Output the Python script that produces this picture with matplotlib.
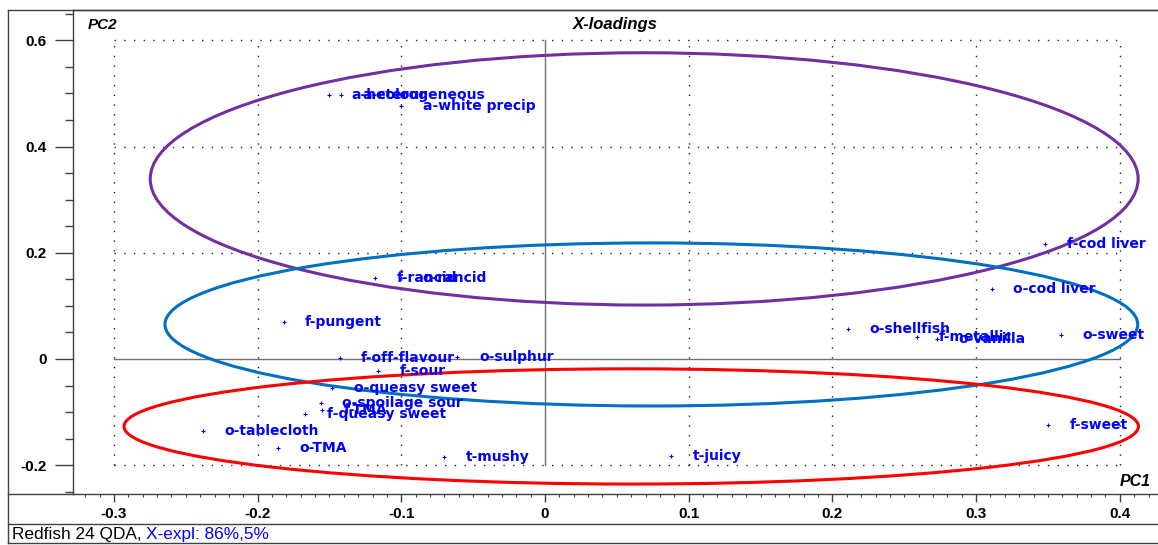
import numpy as np
import matplotlib
matplotlib.use('Agg')
import matplotlib.pyplot as plt
from matplotlib.patches import Ellipse
from matplotlib.lines import Line2D
from matplotlib.ticker import MultipleLocator

W, H = 1158, 545

# loadings
labels = ['a-heterogeneous', 'a-colour', 'a-white precip', 'f-cod liver', 'o-cod liver',
          'o-shellfish', 'f-metallic', 'o-vanilla', 'o-sweet', 'f-sweet', 't-juicy',
          't-mushy', 'f-rancid', 'o-rancid', 'f-pungent', 'f-off-flavour', 'o-sulphur',
          'f-sour', 'o-queasy sweet', 'o-spoilage sour', 'f-TMA', 'f-queasy sweet',
          'o-tablecloth', 'o-TMA']
pc1 = [-0.150, -0.142, -0.100, 0.348, 0.311,
       0.211, 0.259, 0.273, 0.359, 0.350, 0.088,
       -0.070, -0.118, -0.100, -0.182, -0.143, -0.061,
       -0.116, -0.148, -0.156, -0.155, -0.167,
       -0.238, -0.186]
pc2 = [0.497, 0.497, 0.476, 0.217, 0.132,
       0.056, 0.041, 0.038, 0.045, -0.124, -0.183,
       -0.185, 0.152, 0.152, 0.070, 0.002, 0.004,
       -0.023, -0.055, -0.083, -0.096, -0.104,
       -0.136, -0.168]

# group ellipses
ell_cx = [0.069, 0.074, 0.060]
ell_cy = [0.339, 0.065, -0.127]
ell_w = [0.6875, 0.677, 0.706]
ell_h = [0.475, 0.307, 0.217]
ell_col = ['#7030A0', '#0070C0', '#FF0000']

xticks = [-0.3, -0.2, -0.1, 0.0, 0.1, 0.2, 0.3, 0.4]
xticklabels = ['-0.3', '-0.2', '-0.1', '0', '0.1', '0.2', '0.3', '0.4']
yticks = [-0.2, 0.0, 0.2, 0.4, 0.6]
yticklabels = ['-0.2', '0', '0.2', '0.4', '0.6']

frame = '#404040'
fig = plt.figure(figsize=(W / 100, H / 100), dpi=100)
fig.set_facecolor('white')

ax = fig.add_axes([73 / W, 1 - 494 / H, (W - 73) / W, (494 - 10) / H])
ax.set_xlim(-0.3285, 0.4266)
ax.set_ylim(-0.2542, 0.657)

# dotted grid + solid zero lines
for x in xticks:
    if x != 0:
        ax.plot([x, x], [-0.2, 0.6], color='#202020', lw=1, ls=(0, (1, 6)), zorder=1)
for y in yticks:
    if y != 0:
        ax.plot([-0.3, 0.4], [y, y], color='#202020', lw=1, ls=(0, (1, 6)), zorder=1)
ax.plot([0, 0], [-0.2, 0.6], color='#707070', lw=1, zorder=1)
ax.plot([-0.3, 0.4], [0, 0], color='#707070', lw=1, zorder=1)

for cx, cy, w, h, c in zip(ell_cx, ell_cy, ell_w, ell_h, ell_col):
    ax.add_patch(Ellipse((cx, cy), w, h, fill=False, edgecolor=c, lw=2.2, zorder=2))

ax.plot(pc1, pc2, ls='none', marker='+', ms=3, mew=0.8, color='#0000FF', zorder=3)
for lab, x, y in zip(labels, pc1, pc2):
    ax.annotate(lab, (x, y), xytext=(15.5, 0), textcoords='offset points', va='center',
                ha='left', color='#0000FF', fontsize=10, fontweight='bold',
                family='DejaVu Sans', zorder=4)

# axes styling
ax.spines['right'].set_visible(False)
for s in ['left', 'top', 'bottom']:
    ax.spines[s].set_color(frame)
    ax.spines[s].set_linewidth(1)
ax.set_xticks(xticks)
ax.set_xticklabels(xticklabels, fontweight='bold', family='Liberation Sans', fontsize=11)
ax.set_yticks(yticks)
ax.set_yticklabels(yticklabels, fontweight='bold', family='Liberation Sans', fontsize=11)
ax.xaxis.set_minor_locator(MultipleLocator(0.01))
ax.yaxis.set_minor_locator(MultipleLocator(0.05))
ax.tick_params(axis='x', which='major', direction='out', length=6, width=1, pad=3, color=frame)
ax.tick_params(axis='x', which='minor', direction='out', length=2.5, width=0.8, color=frame)
ax.tick_params(axis='y', which='major', direction='out', length=13, width=1, pad=6, color=frame)
ax.tick_params(axis='y', which='minor', direction='out', length=6, width=1, color=frame)

fig.text(103 / W, 1 - 25 / H, 'PC2', fontsize=11, fontweight='bold', style='italic',
         family='Liberation Sans', ha='center', va='center')
fig.text(615 / W, 1 - 25 / H, 'X-loadings', fontsize=12, fontweight='bold', style='italic',
         family='Liberation Sans', ha='center', va='center')
fig.text(1135 / W, 1 - 481 / H, 'PC1', fontsize=11.5, fontweight='bold', style='italic',
         family='Liberation Sans', ha='center', va='center')


def hline(x0, x1, y):
    fig.add_artist(Line2D([x0 / W, x1 / W], [1 - y / H, 1 - y / H], transform=fig.transFigure,
                          color=frame, lw=1))


def vline(x, y0, y1):
    fig.add_artist(Line2D([x / W, x / W], [1 - y0 / H, 1 - y1 / H], transform=fig.transFigure,
                          color=frame, lw=1))


# outer frame and status bar
hline(8, W, 10)
hline(8, 73, 494)
hline(8, W, 524)
hline(8, W, 543)
vline(8, 10, 543)

t1 = fig.text(12 / W, 1 - 534 / H, 'Redfish 24 QDA, ', fontsize=12.4, family='Liberation Sans',
              ha='left', va='center', color='black')
fig.canvas.draw()
bb = t1.get_window_extent()
fig.text(bb.x1 / W, 1 - 534 / H, 'X-expl: 86%,5%', fontsize=12.4, family='Liberation Sans',
         ha='left', va='center', color='#0000FF')

fig.savefig('out.png', dpi=100)
